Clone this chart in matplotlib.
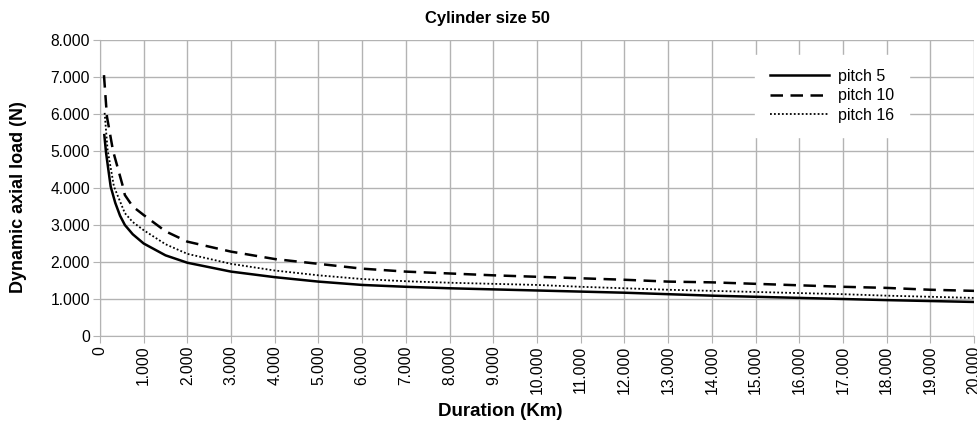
import matplotlib
matplotlib.use("Agg")
import matplotlib.pyplot as plt
from matplotlib.ticker import FuncFormatter, MultipleLocator

plt.rcParams["font.family"] = ["Liberation Sans", "DejaVu Sans"]

# readings (km, N)
km_p5 = [100, 140, 245, 350, 460, 570, 750, 1000, 1500, 2000, 3000, 4000,
         5000, 6000, 7000, 8000, 9000, 10000, 11000, 12000, 13000, 14000,
         15000, 16000, 17000, 18000, 19000, 20000]
load_p5 = [5430, 4950, 4040, 3600, 3250, 3000, 2750, 2500, 2180, 1980, 1740,
           1590, 1470, 1380, 1330, 1290, 1260, 1230, 1200, 1170, 1130, 1090,
           1060, 1030, 1000, 970, 945, 920]

km_p10 = [92, 160, 300, 525, 570, 750, 1000, 1500, 2000, 3000, 4000, 5000,
          6000, 7000, 8000, 9000, 10000, 11000, 12000, 13000, 14000, 15000,
          16000, 17000, 18000, 19000, 20000]
load_p10 = [7050, 5930, 5000, 4040, 3810, 3500, 3270, 2830, 2550, 2280, 2080,
            1950, 1820, 1740, 1690, 1640, 1600, 1560, 1520, 1470, 1450, 1410,
            1370, 1330, 1300, 1250, 1220]

km_p16 = [107, 175, 320, 570, 750, 1000, 1500, 2000, 3000, 4000, 5000, 6000,
          7000, 8000, 9000, 10000, 11000, 12000, 13000, 14000, 15000, 16000,
          17000, 18000, 19000, 20000]
load_p16 = [6030, 5030, 4040, 3320, 3080, 2860, 2480, 2220, 1950, 1770, 1640,
            1540, 1480, 1440, 1410, 1380, 1330, 1290, 1250, 1220, 1190, 1160,
            1130, 1090, 1060, 1030]

fig = plt.figure(figsize=(9.78, 4.21), dpi=100)
ax = fig.add_axes([0.1022, 0.2019, 0.8938, 0.7031])

ax.plot(km_p5, load_p5, color="black", lw=1.8, label="pitch 5")
ax.plot(km_p10, load_p10, color="black", lw=1.8, ls=(0, (5, 3)),
        label="pitch 10")
ax.plot(km_p16, load_p16, color="black", lw=1.3, ls=(0, (1, 1.2)),
        label="pitch 16")

ax.set_xlim(0, 20000)
ax.set_ylim(0, 8000)
ax.xaxis.set_major_locator(MultipleLocator(1000))
ax.yaxis.set_major_locator(MultipleLocator(1000))
fmt = FuncFormatter(lambda v, p: "{:,.0f}".format(v).replace(",", "."))
ax.xaxis.set_major_formatter(fmt)
ax.yaxis.set_major_formatter(fmt)
ax.tick_params(axis="x", labelrotation=90, labelsize=11.3, length=5,
               color="#b3b3b3", pad=2)
ax.tick_params(axis="y", labelsize=11.3, length=5, color="#b3b3b3", pad=2)
ax.grid(color="#b3b3b3", lw=1)
ax.set_axisbelow(True)
for s in ["top", "right"]:
    ax.spines[s].set_visible(False)
for s in ["left", "bottom"]:
    ax.spines[s].set_color("#b3b3b3")

fig.suptitle("Cylinder size 50", fontsize=12, fontweight="bold", y=0.975,
             x=0.498)
ax.set_xlabel("Duration (Km)", fontsize=13.5, fontweight="bold")
ax.xaxis.set_label_coords(0.458, -0.225)
ax.set_ylabel("Dynamic axial load (N)", fontsize=13, fontweight="bold")
ax.yaxis.set_label_coords(-0.083, 0.47)

leg = ax.legend(loc="center", bbox_to_anchor=(0.8375, 0.811), fontsize=11.5,
                frameon=True, framealpha=1, edgecolor="white", fancybox=False,
                handlelength=3.7, labelspacing=0.28, handletextpad=0.6,
                borderpad=0.9, borderaxespad=0)

fig.savefig("out.png", dpi=100)
